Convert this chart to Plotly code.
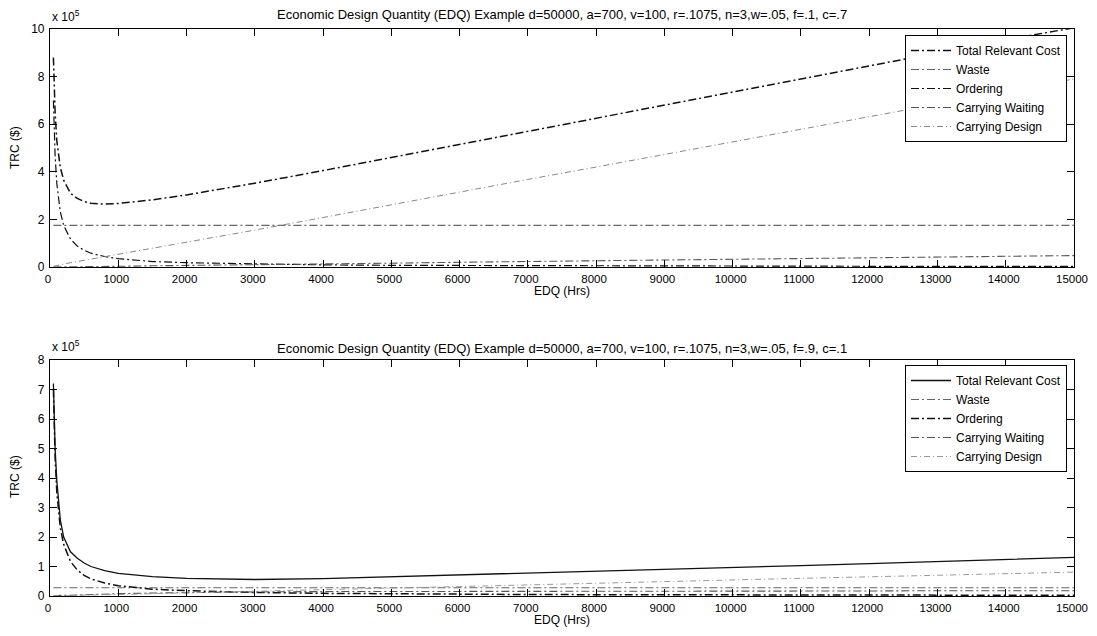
import plotly.graph_objects as go

# ---------------- data (values in units of 1e5 $) ----------------
edq_hrs = [50, 75, 100, 150, 200, 300, 400, 500, 600, 800, 1000, 1500, 2000, 3000,
           4000, 5000, 6000, 7000, 8000, 9000, 10000, 11000, 12000, 13000, 14000, 15000]

# top panel: f=.1, c=.7
trc_top = [8.8, 6.5, 5.3, 4.2, 3.65, 3.1, 2.88, 2.75, 2.68, 2.64, 2.67, 2.82, 3.03, 3.52,
           4.05, 4.6, 5.15, 5.7, 6.25, 6.8, 7.35, 7.9, 8.45, 9.0, 9.55, 10.05]
waste_top = [1.75, 1.75, 1.75, 1.75, 1.75, 1.75, 1.75, 1.75, 1.75, 1.75, 1.75, 1.75, 1.75, 1.75,
             1.75, 1.75, 1.75, 1.75, 1.75, 1.75, 1.75, 1.75, 1.75, 1.75, 1.75, 1.75]
ordering_top = [7.0, 4.67, 3.5, 2.33, 1.75, 1.17, 0.88, 0.70, 0.58, 0.44, 0.35, 0.23, 0.18, 0.12,
                0.09, 0.07, 0.06, 0.05, 0.045, 0.04, 0.035, 0.032, 0.03, 0.027, 0.025, 0.023]
carry_wait_top = [0.0, 0.0, 0.0, 0.01, 0.01, 0.01, 0.01, 0.02, 0.02, 0.03, 0.03, 0.05, 0.07, 0.1,
                  0.13, 0.16, 0.2, 0.23, 0.26, 0.3, 0.33, 0.36, 0.39, 0.42, 0.45, 0.48]
carry_design_top = [0.03, 0.04, 0.06, 0.09, 0.12, 0.18, 0.23, 0.28, 0.34, 0.45, 0.55, 0.79, 1.03, 1.55,
                    2.08, 2.62, 3.15, 3.68, 4.2, 4.73, 5.26, 5.78, 6.31, 6.84, 7.37, 7.9]

# bottom panel: f=.9, c=.1
trc_bot = [7.2, 5.0, 3.9, 2.6, 2.0, 1.5, 1.28, 1.12, 1.0, 0.86, 0.77, 0.66, 0.6, 0.56,
           0.59, 0.65, 0.71, 0.77, 0.83, 0.9, 0.96, 1.03, 1.1, 1.17, 1.24, 1.31]
waste_bot = [0.28, 0.28, 0.28, 0.28, 0.28, 0.28, 0.28, 0.28, 0.28, 0.28, 0.28, 0.28, 0.28, 0.28,
             0.28, 0.28, 0.28, 0.28, 0.28, 0.28, 0.28, 0.28, 0.28, 0.28, 0.28, 0.28]
ordering_bot = [7.0, 4.67, 3.5, 2.33, 1.75, 1.17, 0.88, 0.70, 0.58, 0.44, 0.35, 0.23, 0.18, 0.12,
                0.09, 0.07, 0.06, 0.05, 0.045, 0.04, 0.035, 0.032, 0.03, 0.027, 0.025, 0.023]
carry_wait_bot = [0.0, 0.01, 0.01, 0.02, 0.02, 0.03, 0.04, 0.05, 0.06, 0.07, 0.08, 0.1, 0.12, 0.14,
                  0.15, 0.15, 0.16, 0.16, 0.16, 0.17, 0.17, 0.17, 0.17, 0.18, 0.18, 0.18]
carry_design_bot = [0.0, 0.0, 0.01, 0.01, 0.01, 0.02, 0.02, 0.03, 0.03, 0.04, 0.05, 0.08, 0.11, 0.16,
                    0.22, 0.27, 0.32, 0.38, 0.43, 0.49, 0.54, 0.6, 0.65, 0.7, 0.76, 0.81]

series_names = ["Total Relevant Cost", "Waste", "Ordering", "Carrying Waiting", "Carrying Design"]
x_ticks = [0, 1000, 2000, 3000, 4000, 5000, 6000, 7000, 8000, 9000, 10000, 11000, 12000, 13000, 14000, 15000]
x_tick_labels = ["0", "1000", "2000", "3000", "4000", "5000", "6000", "7000", "8000", "9000",
                 "10000", "11000", "12000", "13000", "14000", "15000"]
y_ticks_top = [0, 2, 4, 6, 8, 10]
y_ticks_bot = [0, 1, 2, 3, 4, 5, 6, 7, 8]
title_top = "Economic Design Quantity (EDQ) Example d=50000, a=700, v=100, r=.1075, n=3,w=.05, f=.1, c=.7"
title_bot = "Economic Design Quantity (EDQ) Example d=50000, a=700, v=100, r=.1075, n=3,w=.05, f=.9, c=.1"

# ---------------- figure ----------------
FONT = "Liberation Sans, Arial, sans-serif"
DASHDOT = "8px,3px,2px,3px"
styles_top = [
    dict(color="#111111", width=1.5, dash=DASHDOT),
    dict(color="#666666", width=1.1, dash=DASHDOT),
    dict(color="#111111", width=1.2, dash=DASHDOT),
    dict(color="#555555", width=1.1, dash=DASHDOT),
    dict(color="#888888", width=1.0, dash="6px,3px,1px,3px"),
]
styles_bot = [
    dict(color="#111111", width=1.3, dash="solid"),
    dict(color="#666666", width=1.1, dash=DASHDOT),
    dict(color="#111111", width=1.5, dash=DASHDOT),
    dict(color="#555555", width=1.1, dash=DASHDOT),
    dict(color="#999999", width=1.0, dash="6px,3px,1px,3px"),
]

fig = go.Figure()
top_data = [trc_top, waste_top, ordering_top, carry_wait_top, carry_design_top]
bot_data = [trc_bot, waste_bot, ordering_bot, carry_wait_bot, carry_design_bot]
for name, ys, st in zip(series_names, top_data, styles_top):
    fig.add_trace(go.Scatter(x=edq_hrs, y=ys, mode="lines", name=name, line=st,
                             xaxis="x", yaxis="y", legend="legend"))
for name, ys, st in zip(series_names, bot_data, styles_bot):
    fig.add_trace(go.Scatter(x=edq_hrs, y=ys, mode="lines", name=name, line=st,
                             xaxis="x2", yaxis="y2", legend="legend2"))

axis_common = dict(showline=True, linecolor="black", linewidth=1.2, mirror="ticks",
                   ticks="inside", ticklen=7, tickwidth=1.3, tickcolor="black",
                   showgrid=False, zeroline=False, ticklabeloverflow="allow", automargin=False)
yfont = dict(tickfont=dict(family=FONT, size=12, color="black"), ticklabelstandoff=2)
xfont = dict(tickfont=dict(family=FONT, size=11.5, color="black"), ticklabelshift=-2,
             ticklabelstandoff=1)

# page body has an 8px margin: figure is placed at (8, 8) in the window
OFF = 8
FIG_W, FIG_H = 1097 - 2 * OFF, 636 - 2 * OFF
AX_L, AX_R, AX_T, AX_B = 50, 1074, 29, 596   # screen pixel box of the plotting area
L, R = AX_L - OFF, FIG_W - (AX_R - OFF)
T, B = AX_T - OFF, FIG_H - (AX_B - OFF)
H = AX_B - AX_T
W = AX_R - AX_L


def py(p):
    return 1 - (p - AX_T) / H


def px(p):
    return (p - AX_L) / W


fig.update_layout(
    width=FIG_W, height=FIG_H,
    margin=dict(l=L, r=R, t=T, b=B, autoexpand=False),
    paper_bgcolor="white", plot_bgcolor="white",
    font=dict(family=FONT, size=12, color="black"),
    xaxis=dict(domain=[0, 1], range=[0, 15000], tickvals=x_ticks, ticktext=x_tick_labels,
               anchor="y", **xfont, **axis_common),
    yaxis=dict(domain=[py(267), 1], range=[0, 10], tickvals=y_ticks_top, anchor="x",
               **yfont, **axis_common),
    xaxis2=dict(domain=[0, 1], range=[0, 15000], tickvals=x_ticks, ticktext=x_tick_labels,
                anchor="y2", **xfont, **axis_common),
    yaxis2=dict(domain=[0, py(360)], range=[0, 8], tickvals=y_ticks_bot, anchor="x2",
                **yfont, **axis_common),
    legend=dict(x=px(1067), y=py(35), xanchor="right", yanchor="top",
                bgcolor="white", bordercolor="black", borderwidth=1,
                font=dict(family=FONT, size=12, color="black"),
                itemwidth=40, tracegroupgap=0),
    legend2=dict(x=px(1067), y=py(365), xanchor="right", yanchor="top",
                 bgcolor="white", bordercolor="black", borderwidth=1,
                 font=dict(family=FONT, size=12, color="black"),
                 itemwidth=40, tracegroupgap=0),
    showlegend=True,
)

ann = []
for title, ty in [(title_top, 15), (title_bot, 348)]:
    ann.append(dict(text=title, xref="paper", yref="paper", x=0.5, y=py(ty),
                    xanchor="center", yanchor="middle", showarrow=False,
                    font=dict(family=FONT, size=13)))
for ty in [291, 620]:
    ann.append(dict(text="EDQ (Hrs)", xref="paper", yref="paper", x=0.5, y=py(ty),
                    xanchor="center", yanchor="middle", showarrow=False,
                    font=dict(family=FONT, size=12)))
for ty in [148, 477]:
    ann.append(dict(text="TRC ($)", xref="paper", yref="paper", x=px(15), y=py(ty),
                    xanchor="center", yanchor="middle", textangle=-90, showarrow=False,
                    font=dict(family=FONT, size=12)))
for ty in [16, 346]:
    ann.append(dict(text="x 10<sup>5</sup>", xref="paper", yref="paper", x=0, y=py(ty),
                    xanchor="left", yanchor="middle", showarrow=False,
                    font=dict(family=FONT, size=12)))
fig.update_layout(annotations=ann)

fig.write_html("out.html")
